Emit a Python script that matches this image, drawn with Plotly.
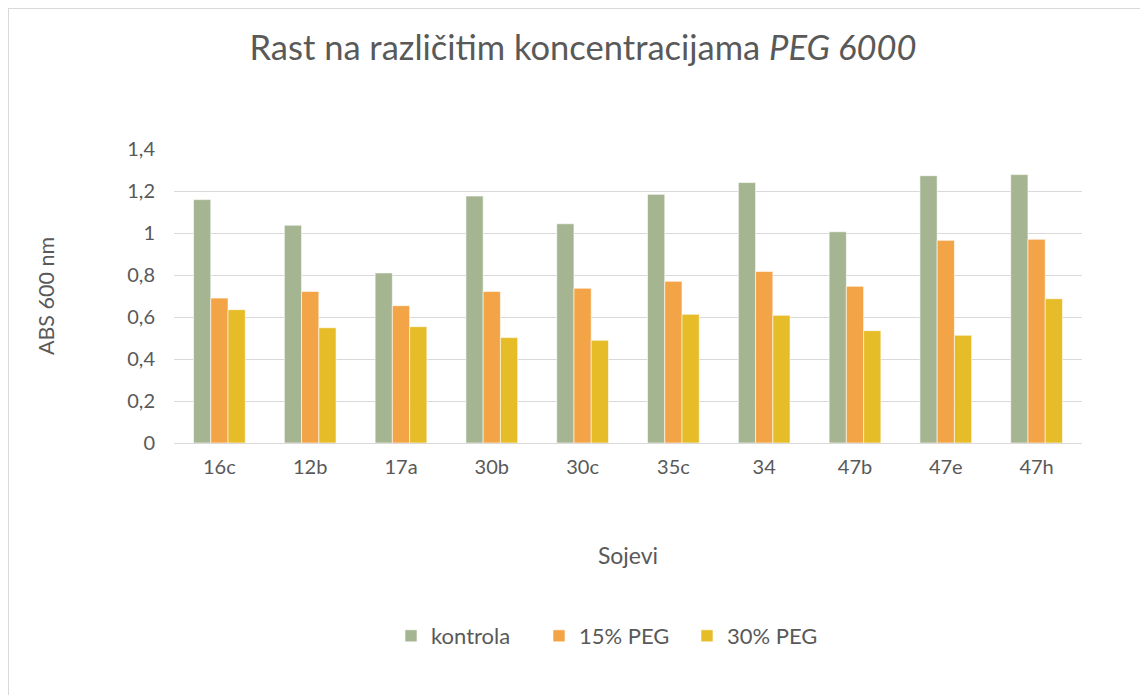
import plotly.graph_objects as go

categories = ["16c", "12b", "17a", "30b", "30c", "35c", "34", "47b", "47e", "47h"]
kontrola = [1.159, 1.037, 0.810, 1.176, 1.044, 1.184, 1.240, 1.006, 1.273, 1.278]
peg15 = [0.690, 0.722, 0.654, 0.722, 0.737, 0.770, 0.817, 0.746, 0.965, 0.970]
peg30 = [0.635, 0.549, 0.554, 0.502, 0.489, 0.613, 0.608, 0.535, 0.513, 0.687]
series_names = ["kontrola", "15% PEG", "30% PEG"]
colors = ["#A5B592", "#F3A447", "#E7BC29"]
y_tickvals = [0, 0.2, 0.4, 0.6, 0.8, 1.0, 1.2, 1.4]
y_ticktext = ["0", "0,2", "0,4", "0,6", "0,8", "1", "1,2", "1,4"]

font_family = "Lato, 'Open Sans', sans-serif"
text_color = "#595959"

fig = go.Figure()
for name, vals, col in zip(series_names, [kontrola, peg15, peg30], colors):
    fig.add_trace(go.Bar(
        x=categories, y=vals, name=name,
        marker=dict(color=col, line=dict(color="white", width=0.6)),
    ))

# page has an 8px body margin; figure placed so plot area is at 174..1082 x 149..443
OFF = 8
W, H = 1140, 687
L, R, T, B = 166, 66, 141, 252
pw, ph = W - L - R, H - T - B

fig.update_layout(
    width=W, height=H,
    margin=dict(l=L, r=R, t=T, b=B),
    paper_bgcolor="white", plot_bgcolor="white",
    barmode="group", bargap=0.43, bargroupgap=0,
    font=dict(family=font_family, color=text_color, size=20),
    title=dict(
        text="Rast na različitim koncentracijama <i>PEG 6000</i>",
        xref="container", x=(583 - OFF) / W, xanchor="center",
        yref="container", y=1 - (48 - OFF) / H, yanchor="middle",
        font=dict(size=34.5, color=text_color, family=font_family),
    ),
    xaxis=dict(
        title=dict(text="Sojevi", font=dict(size=23, color=text_color), standoff=70),
        showgrid=False, showline=True, linecolor="#D9D9D9", linewidth=1,
        ticks="", tickfont=dict(size=20, color=text_color), ticklabelstandoff=6,
    ),
    yaxis=dict(
        title=dict(text="ABS 600 nm", font=dict(size=21.5, color=text_color), standoff=66),
        range=[0, 1.4], tickvals=y_tickvals, ticktext=y_ticktext,
        showgrid=True, gridcolor="#D9D9D9", gridwidth=1,
        zeroline=False, showline=False, ticks="",
        tickfont=dict(size=20, color=text_color), ticklabelstandoff=18,
    ),
    legend=dict(
        orientation="h", x=(391 - 174) / pw, xanchor="left",
        y=-(636 - 443) / ph, yanchor="middle",
        font=dict(size=22, color=text_color),
        itemwidth=30, tracegroupgap=0,
        entrywidth=103, entrywidthmode="pixels",
    ),
    shapes=[
        dict(type="line", xref="paper", yref="paper",
             x0=-L / pw, x1=(W - L) / pw, y0=1 + (T - 0.5) / ph, y1=1 + (T - 0.5) / ph,
             line=dict(color="#D9D9D9", width=1)),
        dict(type="line", xref="paper", yref="paper",
             x0=-(L - 0.5) / pw, x1=-(L - 0.5) / pw, y0=-B / ph, y1=1 + T / ph,
             line=dict(color="#D9D9D9", width=1)),
    ],
)

fig.write_html("out.html")
